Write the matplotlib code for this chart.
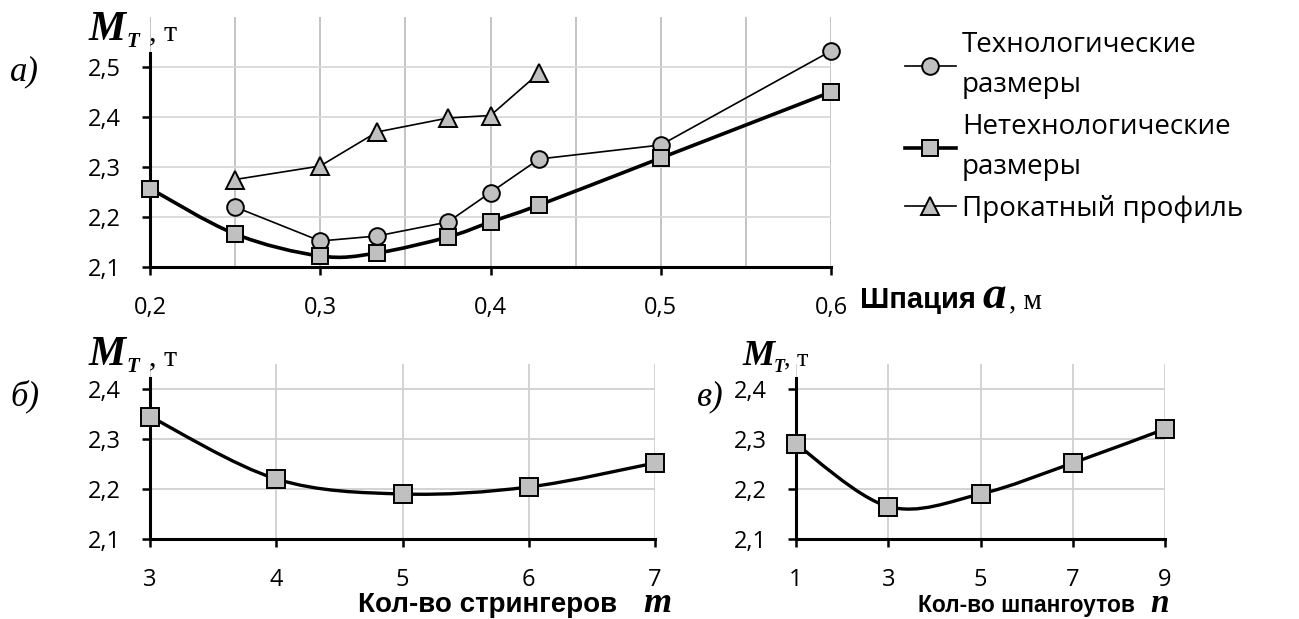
import matplotlib
matplotlib.use('Agg')
import matplotlib.pyplot as plt
import numpy as np
from matplotlib.path import Path
from matplotlib.patches import PathPatch
from matplotlib.lines import Line2D
from matplotlib.ticker import MultipleLocator, FuncFormatter

plt.rcParams['font.family'] = ['Open Sans', 'DejaVu Sans']

# panel a): mass vs frame spacing
a_tech = [0.25, 0.3, 1 / 3, 0.375, 0.4, 3 / 7, 0.5, 0.6]
m_tech = [2.22, 2.152, 2.162, 2.19, 2.249, 2.316, 2.344, 2.532]
a_nontech = [0.2, 0.25, 0.3, 1 / 3, 0.375, 0.4, 3 / 7, 0.5, 0.6]
m_nontech = [2.257, 2.166, 2.122, 2.128, 2.16, 2.19, 2.224, 2.318, 2.45]
a_rolled = [0.25, 0.3, 1 / 3, 0.375, 0.4, 3 / 7]
m_rolled = [2.275, 2.302, 2.37, 2.398, 2.403, 2.488]
legend_labels = ['Технологические\nразмеры', 'Нетехнологические\nразмеры', 'Прокатный профиль']

# panel б): stringers count
n_str = [3, 4, 5, 6, 7]
m_str = [2.345, 2.22, 2.19, 2.204, 2.252]

# panel в): frames count
n_frm = [1, 3, 5, 7, 9]
m_frm = [2.29, 2.165, 2.19, 2.252, 2.32]

W, H = 1299, 619
GRAY = '#bfbfbf'


def px(x, y):
    return x / W, 1 - y / H


def smooth_path(xs, ys):
    # Excel-like smoothed line as cubic bezier segments
    pts = np.column_stack([xs, ys])
    n = len(pts)
    verts = [pts[0]]
    codes = [Path.MOVETO]
    for i in range(n - 1):
        p0 = pts[i - 1] if i > 0 else pts[i]
        p1, p2 = pts[i], pts[i + 1]
        p3 = pts[i + 2] if i + 2 < n else pts[i + 1]
        verts += [p1 + (p2 - p0) / 6, p2 - (p3 - p1) / 6, p2]
        codes += [Path.CURVE4] * 3
    return Path(verts, codes)


def comma(v, pos):
    s = ('%g' % round(v, 3))
    return s.replace('.', ',')


def style_axes(ax, spine_top):
    for s in ['top', 'right']:
        ax.spines[s].set_visible(False)
    for s in ['left', 'bottom']:
        ax.spines[s].set_linewidth(2.2)
        ax.spines[s].set_zorder(5)
    ax.spines['left'].set_bounds(2.1, spine_top)
    ax.tick_params(which='major', direction='out', length=6, width=1.8, labelsize=17, pad=15)
    ax.tick_params(which='minor', length=0)
    ax.yaxis.set_major_formatter(FuncFormatter(comma))
    ax.xaxis.set_major_formatter(FuncFormatter(comma))
    ax.set_axisbelow(True)


fig = plt.figure(figsize=(W / 100, H / 100), dpi=100)

# ---- top panel
ax1 = fig.add_axes([150 / W, 1 - 267 / H, 681 / W, 250 / H])
ax1.set_xlim(0.2, 0.6)
ax1.set_ylim(2.1, 2.6)
ax1.xaxis.set_major_locator(MultipleLocator(0.1))
ax1.xaxis.set_minor_locator(MultipleLocator(0.05))
ax1.set_yticks([2.1, 2.2, 2.3, 2.4, 2.5])
ax1.grid(True, axis='x', which='both', color=GRAY, lw=1.3)
ax1.grid(True, axis='y', which='major', color='#d9d9d9', lw=1.3)
style_axes(ax1, 2.528)

mk = dict(mfc='#c0c0c0', mec='black', mew=1.4, clip_on=False, zorder=6)
ax1.plot(a_tech, m_tech, '-', color='black', lw=1.2, marker='o', ms=12, **mk)
ax1.add_patch(PathPatch(smooth_path(a_nontech, m_nontech), fill=False, lw=2.6, ec='black', zorder=4))
ax1.plot(a_nontech, m_nontech, ls='none', marker='s', ms=11, **mk)
ax1.plot(a_rolled, m_rolled, '-', color='black', lw=1.2, marker='^', ms=13, **mk)

handles = [
    Line2D([], [], color='black', lw=1.2, marker='o', ms=12, mfc='#c0c0c0', mec='black', mew=1.4),
    Line2D([], [], color='black', lw=2.6, marker='s', ms=11, mfc='#c0c0c0', mec='black', mew=1.4),
    Line2D([], [], color='black', lw=1.2, marker='^', ms=13, mfc='#c0c0c0', mec='black', mew=1.4),
]
leg = fig.legend(handles, legend_labels, loc='upper left', bbox_to_anchor=px(905, 31),
                 frameon=False, fontsize=20, handlelength=1.83, handletextpad=0.22,
                 labelspacing=0.5, borderpad=0, borderaxespad=0)
for t in leg.get_texts():
    t.set_linespacing(1.58)

# ---- bottom left panel
ax2 = fig.add_axes([150 / W, 1 - 539 / H, 505 / W, 175 / H])
ax2.set_xlim(3, 7)
ax2.set_ylim(2.1, 2.45)
ax2.set_xticks(n_str)
ax2.set_yticks([2.1, 2.2, 2.3, 2.4])
ax2.grid(True, color='#d0d0d0', lw=1.3)
style_axes(ax2, 2.422)
ax2.add_patch(PathPatch(smooth_path(n_str, m_str), fill=False, lw=2.4, ec='black', zorder=4))
ax2.plot(n_str, m_str, ls='none', marker='s', ms=13, **mk)

# ---- bottom right panel
ax3 = fig.add_axes([796 / W, 1 - 539 / H, 369 / W, 175 / H])
ax3.set_xlim(1, 9)
ax3.set_ylim(2.1, 2.45)
ax3.set_xticks(n_frm)
ax3.set_yticks([2.1, 2.2, 2.3, 2.4])
ax3.grid(True, color='#d0d0d0', lw=1.3)
style_axes(ax3, 2.422)
ax3.add_patch(PathPatch(smooth_path(n_frm, m_frm), fill=False, lw=2.4, ec='black', zorder=4))
ax3.plot(n_frm, m_frm, ls='none', marker='s', ms=13, **mk)

# ---- labels
serif = 'Liberation Serif'
bi = dict(family=serif, weight='bold', style='italic')


def mt_label(x, y, sub_dx, comma_x, size):
    fig.text(*px(x, y), 'M', fontsize=size, va='baseline', **bi)
    fig.text(*px(x + sub_dx, y + 7), 'T', fontsize=size * 0.5, va='baseline', **bi)
    fig.text(*px(comma_x, y), ', т', fontsize=size * 0.72, va='baseline', family=serif)


mt_label(89, 40, 37, 149, 30)
mt_label(89, 365, 37, 149, 30)
mt_label(742, 365, 32, 784, 26)

fig.text(*px(10, 80), 'а)', fontsize=25, style='italic', family=serif, va='baseline')
fig.text(*px(10, 405), 'б)', fontsize=25, style='italic', family=serif, va='baseline')
fig.text(*px(697, 405), 'в)', fontsize=25, style='italic', family=serif, va='baseline')

# x axis titles
fig.text(*px(860, 308), 'Шпация', fontsize=21, weight='bold', family='Liberation Sans', va='baseline')
fig.text(*px(982, 308), 'a', fontsize=34, va='baseline', **bi)
fig.text(*px(1009, 308), ', м', fontsize=21, va='baseline', family=serif)

fig.text(*px(358, 612), 'Кол-во стрингеров', fontsize=20, weight='bold', family='Liberation Sans', va='baseline')
fig.text(*px(643, 612), 'm', fontsize=26, va='baseline', **bi)
fig.text(*px(918, 612), 'Кол-во шпангоутов', fontsize=16.4, weight='bold', family='Liberation Sans', va='baseline')
fig.text(*px(1150, 612), 'n', fontsize=24, va='baseline', **bi)

fig.savefig('out.png', dpi=100)
